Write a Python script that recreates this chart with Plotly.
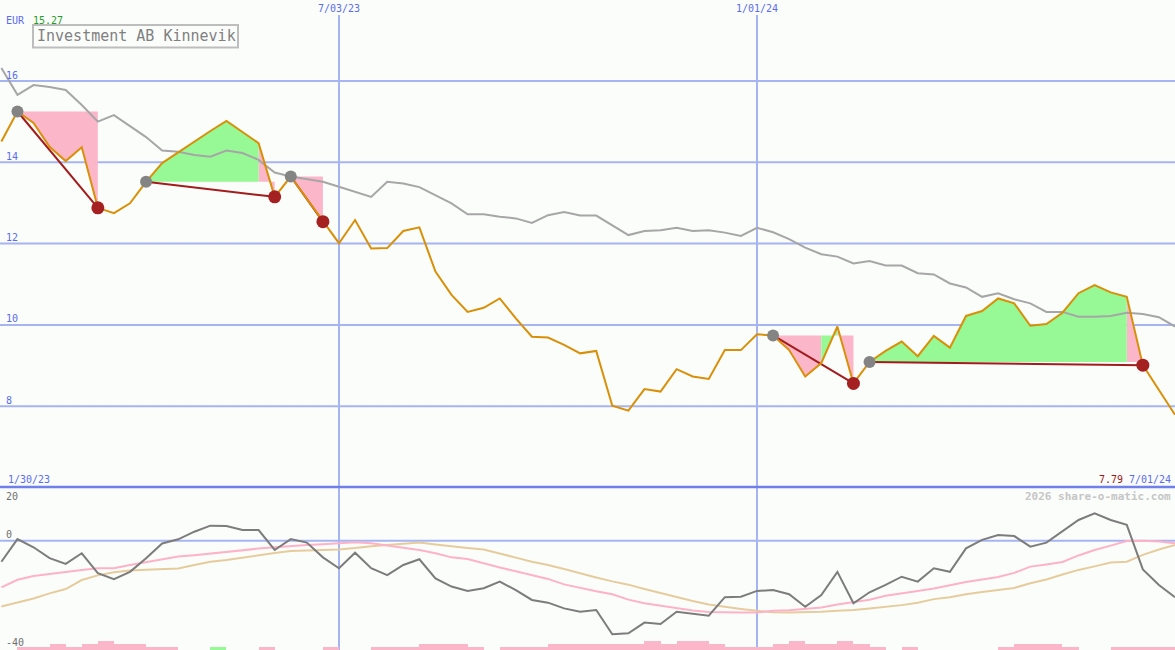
import pandas as pd
import plotly.graph_objects as go

# ---------------- data ----------------
week_start = "2023-02-06"
n_weeks = 74

price = [14.51, 15.25, 14.97, 14.38, 14.03, 14.37, 12.88, 12.75, 12.99, 13.52,
         13.98, 14.25, 14.52, 14.77, 15.02, 14.75, 14.47, 13.15, 13.65, 13.10,
         12.54, 12.01, 12.58, 11.88, 11.89, 12.31, 12.40, 11.31, 10.74, 10.32,
         10.42, 10.65, 10.16, 9.71, 9.69, 9.51, 9.30, 9.36, 8.01, 7.89,
         8.42, 8.36, 8.91, 8.73, 8.67, 9.38, 9.38, 9.77, 9.74, 9.38,
         8.73, 9.06, 9.96, 8.56, 9.09, 9.36, 9.59, 9.23, 9.73, 9.44,
         10.22, 10.34, 10.65, 10.53, 9.98, 10.02, 10.30, 10.78, 10.98, 10.80,
         10.69, 9.01, 8.40, 7.79]

moving_avg = [16.32, 15.66, 15.90, 15.85, 15.78, 15.41, 15.00, 15.16, 14.89, 14.62,
              14.29, 14.26, 14.18, 14.14, 14.29, 14.23, 14.06, 13.75, 13.65, 13.58,
              13.52, 13.40, 13.28, 13.15, 13.52, 13.48, 13.39, 13.20, 12.99, 12.72,
              12.72, 12.66, 12.62, 12.51, 12.70, 12.78, 12.69, 12.69, 12.46, 12.21,
              12.31, 12.33, 12.39, 12.31, 12.33, 12.27, 12.19, 12.39, 12.28, 12.11,
              11.90, 11.74, 11.68, 11.51, 11.57, 11.46, 11.46, 11.27, 11.24, 11.02,
              10.92, 10.69, 10.78, 10.63, 10.53, 10.32, 10.32, 10.20, 10.20, 10.22,
              10.30, 10.27, 10.19, 9.96]

oscillator = [-7.7, 0.6, -2.4, -6.4, -8.5, -4.6, -11.9, -14.1, -11.4, -6.4,
              -1.0, 0.5, 3.3, 5.5, 5.4, 3.9, 3.9, -3.4, 0.6, -0.7,
              -6.1, -10.1, -4.4, -10.1, -12.6, -8.9, -6.8, -13.8, -16.8, -18.4,
              -17.4, -15.0, -18.1, -21.7, -22.7, -24.8, -26.0, -25.4, -34.3, -33.9,
              -30.0, -30.5, -26.0, -26.8, -27.5, -20.7, -20.5, -18.4, -18.1, -19.6,
              -24.2, -19.9, -11.4, -22.9, -18.9, -16.2, -13.2, -15.0, -10.1, -11.4,
              -2.8, 0.3, 2.1, 1.7, -2.2, -0.7, 3.3, 7.6, 10.0, 7.6,
              5.8, -10.5, -16.2, -20.7]

signal_fast = [-17.1, -14.3, -12.9, -12.1, -11.3, -10.7, -10.1, -10.1, -8.9, -7.8,
               -6.7, -5.8, -5.3, -4.7, -3.9, -3.3, -2.9, -2.4, -1.9, -1.6,
               -1.3, -0.9, -0.6, -0.9, -1.7, -2.4, -3.4, -4.6, -6.1, -6.7,
               -8.3, -9.8, -11.2, -12.5, -14.0, -16.0, -17.3, -18.5, -19.6, -21.6,
               -22.9, -23.8, -24.7, -25.6, -26.1, -26.3, -26.3, -26.3, -25.7, -25.5,
               -24.9, -24.5, -23.4, -22.4, -21.6, -20.2, -19.2, -18.4, -17.5, -16.2,
               -15.1, -14.2, -13.3, -11.8, -9.5, -8.7, -7.8, -5.4, -3.4, -1.8,
               -0.1, 0.0, -0.3, -0.9]

signal_slow = [-24.1, -22.6, -21.2, -19.3, -17.7, -14.4, -12.7, -11.6, -10.9, -10.6,
               -10.4, -10.2, -8.9, -7.7, -7.1, -6.2, -5.4, -4.5, -3.8, -3.6,
               -3.4, -3.2, -2.7, -2.0, -1.6, -1.2, -0.7, -1.4, -2.1, -2.7,
               -3.2, -4.6, -6.2, -7.7, -8.9, -10.4, -12.0, -13.5, -14.9, -16.1,
               -17.7, -19.2, -20.6, -22.1, -23.4, -24.3, -25.0, -25.7, -26.2, -26.3,
               -26.2, -26.0, -25.7, -25.4, -24.8, -24.3, -23.6, -22.7, -21.4, -20.7,
               -19.6, -18.8, -18.0, -17.3, -15.6, -14.2, -12.4, -10.7, -9.4, -8.0,
               -7.7, -5.2, -3.2, -1.6]

# weekly histogram level (negative = pink, positive = green), one per week interval
histogram = [0, -1, -1, -2, -1, -2, -3, -2, -2, -1,
             -1, 0, 0, 1, 0, 0, -1, 0, 0, 0,
             -1, 0, 0, -1, -1, -1, -2, -2, -2, -1,
             0, -1, -1, -1, -2, -2, -2, -2, -2, -2,
             -3, -2, -3, -3, -2, -1, -1, -1, -2, -3,
             -2, -2, -3, -2, -1, 0, -1, 0, 0, 0,
             0, 0, -1, -2, -2, -2, -1, 0, 0, -1,
             -1, -1, -1]

trade_entry_dates = ["2023-02-13", "2023-04-10", "2023-06-12", "2024-01-08", "2024-02-19"]
trade_exit_dates = ["2023-03-20", "2023-06-05", "2023-06-26", "2024-02-12", "2024-06-17"]

grid_values = [8, 10, 12, 14, 16]
date_ticks = ["2023-07-03", "2024-01-01"]
date_tick_labels = ["7/03/23", "1/01/24"]
osc_labels = [("20", 496), ("0", 534.5), ("-40", 642)]

# ---------------- styling ----------------
W, H = 1175, 650
BG = "#fbfdfb"
GRID = "#a6b4f2"
BLUE_TXT = "#5a6cf0"
PINK = "#fbb6ca"
GREEN = "#96f996"
ORANGE = "#d99008"
GRAY_LINE = "#a6a6a6"
DARK_RED = "#a21c1c"
MONO = "DejaVu Sans Mono"

dates = pd.date_range(week_start, periods=n_weeks, freq="7D")
date_index = {d.strftime("%Y-%m-%d"): i for i, d in enumerate(dates)}


def px(x):
    return x / W


def py(y):
    return 1 - y / H


split = 1 - 487 / H

fig = go.Figure()

# ---- fills between price and entry level for each trade ----
fill_x = {"pink": [], "green": []}
fill_y = {"pink": [], "green": []}
for ed, xd in zip(trade_entry_dates, trade_exit_dates):
    e, x = date_index[ed], date_index[xd]
    level = price[e]
    for k in range(e, x):
        col = "green" if price[k + 1] > level else "pink"
        fill_x[col] += [dates[k], dates[k], dates[k + 1], dates[k + 1], dates[k], None]
        fill_y[col] += [level, price[k], price[k + 1], level, level, None]

fig.add_trace(go.Scatter(x=fill_x["pink"], y=fill_y["pink"], fill="toself", mode="none",
                         fillcolor=PINK, hoverinfo="skip", xaxis="x", yaxis="y"))
fig.add_trace(go.Scatter(x=fill_x["green"], y=fill_y["green"], fill="toself", mode="none",
                         fillcolor=GREEN, hoverinfo="skip", xaxis="x", yaxis="y"))

# ---- moving average ----
fig.add_trace(go.Scatter(x=dates, y=moving_avg, mode="lines",
                         line=dict(color=GRAY_LINE, width=2), xaxis="x", yaxis="y"))

# ---- trade lines ----
for ed, xd in zip(trade_entry_dates, trade_exit_dates):
    e, x = date_index[ed], date_index[xd]
    fig.add_trace(go.Scatter(x=[dates[e], dates[x]], y=[price[e], price[x]], mode="lines",
                             line=dict(color=DARK_RED, width=2), xaxis="x", yaxis="y"))

# ---- price ----
fig.add_trace(go.Scatter(x=dates, y=price, mode="lines",
                         line=dict(color=ORANGE, width=2), xaxis="x", yaxis="y"))

# ---- markers ----
ent = [date_index[d] for d in trade_entry_dates]
ext = [date_index[d] for d in trade_exit_dates]
fig.add_trace(go.Scatter(x=[dates[i] for i in ent], y=[price[i] for i in ent], mode="markers",
                         marker=dict(color="#848484", size=12, line=dict(width=0)),
                         xaxis="x", yaxis="y"))
fig.add_trace(go.Scatter(x=[dates[i] for i in ext], y=[price[i] for i in ext], mode="markers",
                         marker=dict(color="#a52020", size=13, line=dict(width=0)),
                         xaxis="x", yaxis="y"))

# ---- lower panel ----
bar_x = [dates[k] + pd.Timedelta(hours=84) for k in range(len(histogram))]
bar_h = [abs(v) * 1.1 for v in histogram]
bar_c = [GREEN if v > 0 else PINK for v in histogram]
fig.add_trace(go.Bar(x=bar_x, y=bar_h, base=-40.04, width=7 * 86400000,
                     marker=dict(color=bar_c, line=dict(width=0)), xaxis="x2", yaxis="y2"))
fig.add_trace(go.Scatter(x=dates, y=signal_slow, mode="lines",
                         line=dict(color="#e6cc9c", width=2), xaxis="x2", yaxis="y2"))
fig.add_trace(go.Scatter(x=dates, y=signal_fast, mode="lines",
                         line=dict(color="#fdb2c8", width=2), xaxis="x2", yaxis="y2"))
fig.add_trace(go.Scatter(x=dates, y=oscillator, mode="lines",
                         line=dict(color="#7c7c7c", width=2), xaxis="x2", yaxis="y2"))

# ---------------- shapes ----------------
shapes = []
for v in grid_values:
    shapes.append(dict(type="line", xref="paper", yref="y", x0=0, x1=1, y0=v, y1=v,
                       line=dict(color=GRID, width=2), layer="below"))
shapes.append(dict(type="line", xref="paper", yref="y2", x0=0, x1=1, y0=0, y1=0,
                   line=dict(color=GRID, width=2), layer="below"))
for d in date_ticks:
    shapes.append(dict(type="line", xref="x", yref="paper", x0=d, x1=d, y0=0, y1=py(15),
                       line=dict(color=GRID, width=2), layer="below"))
shapes.append(dict(type="line", xref="paper", yref="paper", x0=0, x1=1, y0=py(487), y1=py(487),
                   line=dict(color="#6f80ea", width=2.5), layer="above"))
shapes.append(dict(type="rect", xref="paper", yref="paper", x0=px(33), x1=px(238),
                   y0=py(47.5), y1=py(25), fillcolor=BG,
                   line=dict(color="#bdbdbd", width=2), layer="above"))

# ---------------- annotations ----------------
ann = []


def label(text, x, y, color, size=10, anchor="left", bold=False):
    ann.append(dict(text=("<b>%s</b>" % text) if bold else text, x=px(x), y=py(y),
                    xref="paper", yref="paper", xanchor=anchor, yanchor="middle",
                    showarrow=False, font=dict(family=MONO, size=size, color=color)))


label("EUR", 4, 20, BLUE_TXT)
label("15.27", 31, 20, "#22a022")
label("Investment AB Kinnevik", 136, 36.5, "#808080", size=15, anchor="center")
for d, t in zip(date_ticks, date_tick_labels):
    xd = (pd.Timestamp(d) - pd.Timestamp("2023-02-05 09:36")) / pd.Timedelta(days=1) * 2.2967
    label(t, xd, 8.5, BLUE_TXT, anchor="center")
for v in grid_values:
    yv = 81 + (16 - v) * 40.65
    label(str(v), 4, yv - 6, BLUE_TXT)
label("1/30/23", 6, 479, BLUE_TXT)
label("7.79", 1097, 479, "#a01818")
label("7/01/24", 1173, 479, BLUE_TXT, anchor="right")
for t, yv in osc_labels:
    label(t, 4, yv, "#707070")
label("2026 share-o-matic.com", 1173, 496, "#c6c6c6", size=11, anchor="right", bold=True)

axis_common = dict(visible=False, showgrid=False, zeroline=False, fixedrange=True)

fig.update_layout(
    width=W, height=H,
    margin=dict(l=0, r=0, t=0, b=0),
    paper_bgcolor=BG, plot_bgcolor=BG,
    showlegend=False,
    bargap=0,
    xaxis=dict(domain=[0, 1], anchor="y", range=["2023-02-05 09:36", "2024-07-01 00:00"],
               **axis_common),
    xaxis2=dict(domain=[0, 1], anchor="y2", matches="x",
                range=["2023-02-05 09:36", "2024-07-01 00:00"], **axis_common),
    yaxis=dict(domain=[split, 1], range=[6.012, 17.993], **axis_common),
    yaxis2=dict(domain=[0, split], range=[-40.04, 19.67], **axis_common),
    shapes=shapes,
    annotations=ann,
)

fig.write_html("out.html", config={"displayModeBar": False},
               post_script="document.body.style.margin='0';document.body.style.overflow='hidden';")
